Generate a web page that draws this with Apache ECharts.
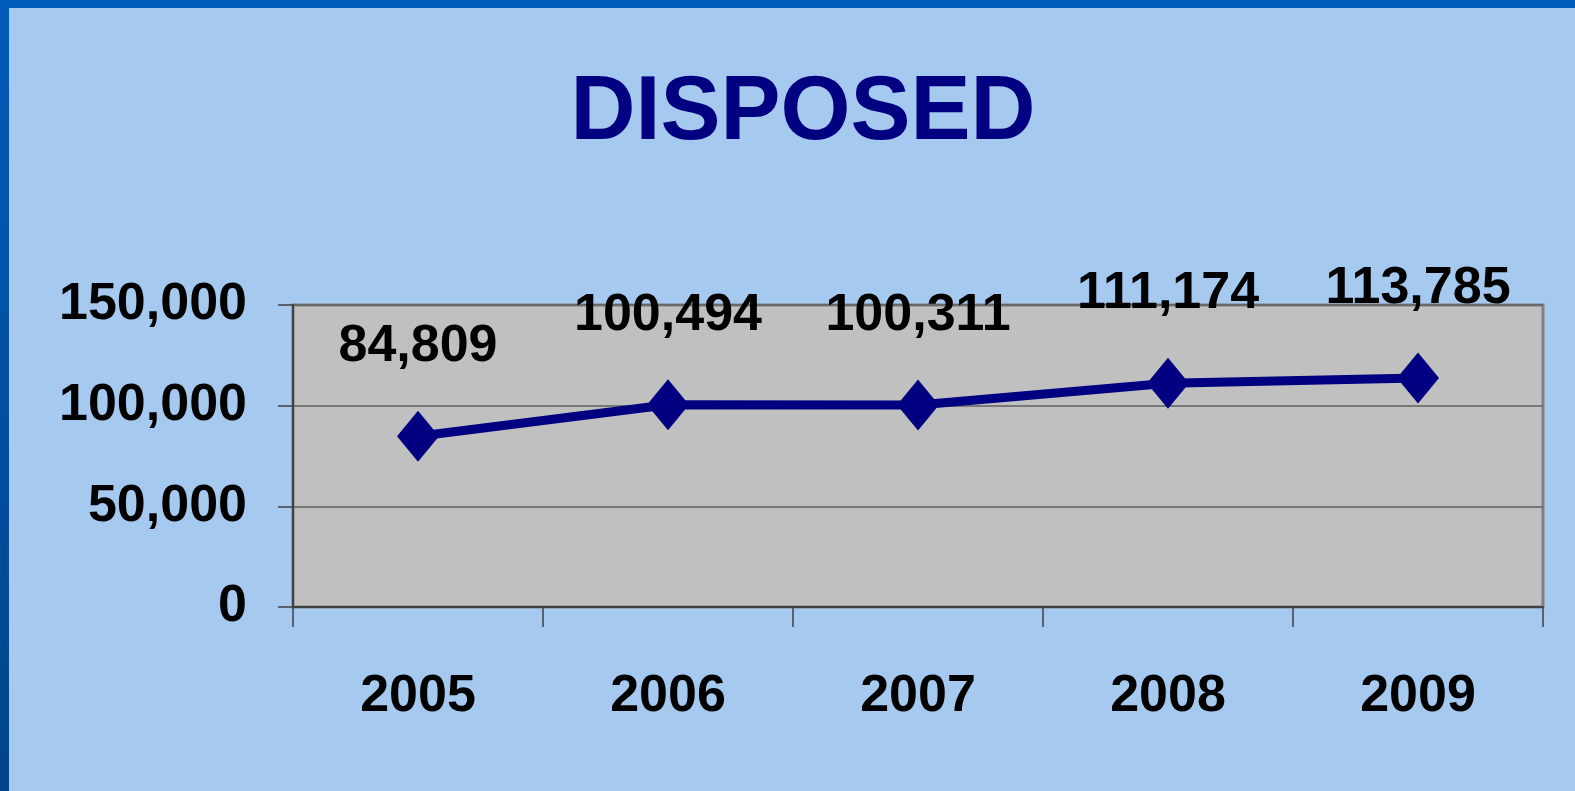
<!DOCTYPE html>
<html>
<head>
<meta charset="utf-8">
<script src="https://cdn.jsdelivr.net/npm/echarts@6/dist/echarts.min.js"></script>
<style>
html,body{margin:0;padding:0;background:#A6C9F0;}
#c{width:1575px;height:791px;}
</style>
</head>
<body>
<div id="c"></div>
<script>
const titleText = 'DISPOSED';
const categories = ['2005', '2006', '2007', '2008', '2009'];
const disposed = [84809, 100494, 100311, 111174, 113785];
const yTicks = [0, 50000, 100000, 150000];

const chart = echarts.init(document.getElementById('c'));
const fmt = v => v.toLocaleString('en-US');
const font = '"Liberation Sans", Arial, sans-serif';

chart.setOption({
  backgroundColor: '#A6C9F0',
  animation: false,
  title: {
    text: titleText,
    left: 798,
    textAlign: 'center',
    top: 64,
    textStyle: { fontFamily: font, fontWeight: 'bold', fontSize: 90, color: '#000080' }
  },
  graphic: [
    { type: 'rect', left: 0, top: 0, shape: { width: 1575, height: 8 }, style: { fill: '#005BB8' }, z: 100 },
    { type: 'rect', left: 0, top: 0, shape: { width: 9, height: 791 },
      style: { fill: new echarts.graphic.LinearGradient(0, 0, 0, 1, [
        { offset: 0, color: '#005BB8' }, { offset: 1, color: '#00448A' }]) }, z: 100 }
  ],
  grid: {
    left: 293, right: 32, top: 305, bottom: 184,
    show: true, backgroundColor: '#C0C0C0', borderColor: '#808080', borderWidth: 3
  },
  xAxis: {
    type: 'category',
    data: categories,
    boundaryGap: true,
    axisLine: { show: true, lineStyle: { color: '#404040', width: 2 } },
    axisTick: { show: true, length: 20, lineStyle: { color: '#404040', width: 1.5 } },
    axisLabel: { fontFamily: font, fontWeight: 'bold', fontSize: 52, color: '#000', margin: 64 },
    splitLine: { show: false }
  },
  yAxis: {
    type: 'value',
    min: yTicks[0],
    max: yTicks[yTicks.length - 1],
    interval: yTicks[1] - yTicks[0],
    axisLine: { show: true, lineStyle: { color: '#404040', width: 2 } },
    axisTick: { show: true, length: 15, lineStyle: { color: '#404040', width: 1.5 } },
    axisLabel: { fontFamily: font, fontWeight: 'bold', fontSize: 52, color: '#000', margin: 46,
      formatter: v => fmt(v) },
    splitLine: { show: true, lineStyle: { color: '#606060', width: 1.5 } }
  },
  series: [{
    type: 'line',
    data: disposed,
    symbol: 'diamond',
    symbolSize: [42, 51],
    lineStyle: { color: '#000080', width: 9 },
    itemStyle: { color: '#000080' },
    label: {
      show: true, position: 'top', distance: 38,
      fontFamily: font, fontWeight: 'bold', fontSize: 52, color: '#000',
      formatter: p => fmt(p.value)
    },
    z: 5
  }]
});
</script>
</body>
</html>
